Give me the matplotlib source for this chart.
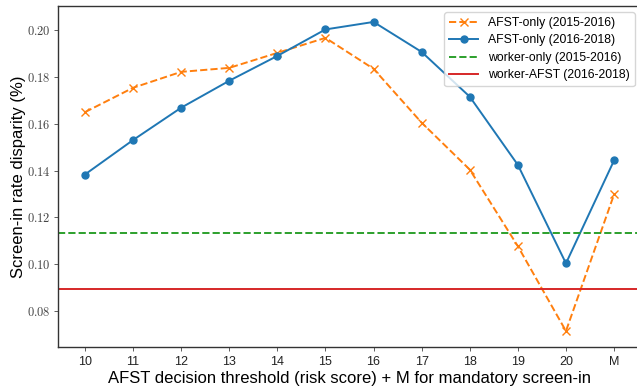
import matplotlib
matplotlib.use("Agg")
import matplotlib.pyplot as plt
from matplotlib.ticker import FuncFormatter

plt.rcParams['font.family'] = ['Liberation Sans', 'DejaVu Sans']
plt.rcParams['mathtext.fontset'] = 'cm'

thresholds = ['10', '11', '12', '13', '14', '15', '16', '17', '18', '19', '20', 'M']
afst_1516 = [0.1649, 0.1753, 0.1821, 0.1838, 0.1902, 0.1966, 0.1834, 0.1604, 0.1404, 0.1077, 0.0715, 0.1298]
afst_1618 = [0.1383, 0.1530, 0.1668, 0.1783, 0.1889, 0.2002, 0.2034, 0.1906, 0.1715, 0.1424, 0.1004, 0.1443]
worker_1516 = 0.1133
worker_afst_1618 = 0.0894

fig = plt.figure(figsize=(6.37, 3.92), dpi=100)
ax = fig.add_axes([58 / 637, 45 / 392, 583 / 637, 341 / 392])

x = list(range(len(thresholds)))
ax.plot(x, afst_1516, '--x', color='#ff7f0e', markersize=6, linewidth=1.4, label='AFST-only (2015-2016)')
ax.plot(x, afst_1618, '-o', color='#1f77b4', markersize=5, linewidth=1.4, label='AFST-only (2016-2018)')
ax.axhline(worker_1516, color='#2ca02c', linestyle='--', linewidth=1.4, label='worker-only (2015-2016)')
ax.axhline(worker_afst_1618, color='#d62728', linestyle='-', linewidth=1.4, label='worker-AFST (2016-2018)')

ax.set_xlim(-0.56, 11.56)
ax.set_ylim(0.0647, 0.2102)
ax.set_xticks(x)
ax.set_xticklabels(thresholds, fontsize=9)
ax.set_yticks([0.08, 0.10, 0.12, 0.14, 0.16, 0.18, 0.20])
ax.yaxis.set_major_formatter(FuncFormatter(lambda v, p: r'$%.2f$' % v))
for lbl in ax.get_yticklabels():
    lbl.set_fontsize(9)
    lbl.set_color('#444444')
ax.tick_params(length=3, width=0.6, colors='#444444')
ax.tick_params(axis='x', labelcolor='#222222')
ax.tick_params(axis='y', pad=2)

for s in ax.spines.values():
    s.set_color('#333333')
    s.set_linewidth(1.0)

ax.set_xlabel('AFST decision threshold (risk score) + M for mandatory screen-in', fontsize=12, labelpad=2)
ax.set_ylabel('Screen-in rate disparity (%)', fontsize=12, labelpad=1)

ax.legend(loc='upper right', fontsize=8.8, handlelength=2.4, borderaxespad=0.5, labelspacing=0.45)

fig.savefig('out.png', dpi=100)
